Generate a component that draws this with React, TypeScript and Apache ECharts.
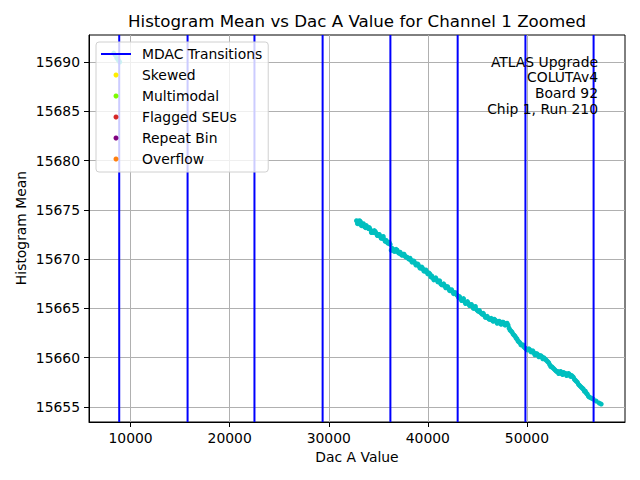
import React, { useEffect, useRef } from "react";
import * as echarts from "echarts";

const transitions = [8850, 15750, 22500, 29380, 36220, 43010, 49850, 56730];

const dacValues = [
  8300, 8450, 8600, 8750, 8900,
  32800, 33000, 33200, 33400, 33600, 33800, 34000, 34200, 34400, 34600, 34800,
  35000, 35200, 35400, 35600, 35800, 36000, 36200, 36300, 36500, 36700, 36900,
  37100, 37300, 37500, 37700, 37900, 38100, 38300, 38500, 38700, 38900, 39100,
  39300, 39500, 39700, 39900, 40100, 40300, 40500, 40700, 40900, 41100, 41300,
  41500, 41700, 41900, 42100, 42300, 42500, 42700, 42900, 43100, 43300, 43500,
  43700, 43900, 44100, 44300, 44500, 44700, 44900, 45100, 45300, 45500, 45700,
  45900, 46100, 46300, 46500, 46700, 46900, 47100, 47300, 47500, 47700, 47900,
  48100, 48300, 48500, 48700, 48900, 49100, 49300, 49500, 49700, 49900, 50100,
  50300, 50500, 50700, 50900, 51100, 51300, 51500, 51700, 51900, 52100, 52300,
  52500, 52700, 52900, 53100, 53300, 53500, 53700, 53900, 54100, 54300, 54500,
  54700, 54900, 55100, 55300, 55500, 55700, 55900, 56100, 56300, 56500, 56700,
  57000, 57300, 57500,
  32900, 33100, 33300, 33500, 33700, 33900, 34100, 34300, 34500, 34700, 34900,
  35100, 35300, 35500, 35700, 35900, 36100, 36400, 36600, 36800, 37000, 37200,
  37400, 37600, 37800, 38000, 38200, 38400, 38600, 38800, 39000, 39200, 39400,
  39600, 39800, 40000, 40200, 40400, 40600, 40800, 41000, 41200, 41400, 41600,
  41800, 42000, 42200, 42400, 42600, 42800, 43000, 43200, 43400, 43600, 43800,
  44000, 44200, 44400, 44600, 44800, 45000, 45200, 45400, 45600, 45800, 46000,
  46200, 46400, 46600, 46800, 47000, 47200, 47400, 47600, 47800, 48000, 48200,
  48400, 48600, 48800, 49000, 49200, 49400, 49600, 49800, 50000, 50200, 50400,
  50600, 50800, 51000, 51200, 51400, 51600, 51800, 52000, 52200, 52400, 52600,
  52800, 53000, 53200, 53400, 53600, 53800, 54000, 54200, 54400, 54600, 54800,
  55000, 55200, 55400, 55600, 55800, 56000, 56200,
];

const histMeans = [
  15690.9, 15690.7, 15690.4, 15690.2, 15690.0,
  15673.9, 15673.6, 15673.8, 15673.5, 15673.3, 15673.4, 15673.1, 15673.0, 15672.8, 15672.9, 15672.6,
  15672.5, 15672.3, 15672.2, 15672.0, 15671.9, 15671.6, 15671.5, 15670.9, 15671.0, 15670.8, 15670.9,
  15670.6, 15670.5, 15670.5, 15670.3, 15670.2, 15670.0, 15669.9, 15669.8, 15669.6, 15669.5, 15669.3,
  15669.1, 15669.0, 15668.8, 15668.7, 15668.6, 15668.2, 15668.1, 15668.0, 15667.9, 15667.7, 15667.5,
  15667.4, 15667.3, 15667.2, 15667.0, 15666.8, 15666.7, 15666.6, 15666.4, 15666.1, 15666.0, 15665.9,
  15665.7, 15665.6, 15665.5, 15665.3, 15665.2, 15665.1, 15664.9, 15664.7, 15664.6, 15664.4, 15664.3,
  15664.1, 15664.0, 15663.9, 15663.8, 15663.9, 15663.7, 15663.6, 15663.5, 15663.6, 15663.5, 15663.4,
  15663.3, 15662.8, 15662.6, 15662.3, 15662.0, 15661.7, 15661.5, 15661.3, 15661.1, 15660.9, 15660.8,
  15660.8, 15660.6, 15660.5, 15660.4, 15660.3, 15660.2, 15660.1, 15660.0, 15659.8, 15659.6, 15659.3,
  15659.1, 15658.9, 15658.7, 15658.6, 15658.5, 15658.4, 15658.5, 15658.4, 15658.3, 15658.3, 15658.2,
  15658.0, 15657.7, 15657.5, 15657.2, 15657.0, 15656.8, 15656.6, 15656.3, 15656.0, 15655.9, 15655.8,
  15655.6, 15655.4, 15655.3,
  15673.6, 15673.9, 15673.4, 15673.6, 15673.2, 15673.2, 15673.2, 15672.7, 15672.7, 15672.8, 15672.4,
  15672.5, 15672.1, 15672.3, 15671.8, 15671.7, 15671.7, 15671.1, 15670.8, 15671.0, 15670.7, 15670.7,
  15670.4, 15670.5, 15670.2, 15670.1, 15670.1, 15669.7, 15669.8, 15669.4, 15669.5, 15669.1, 15669.2,
  15668.8, 15668.9, 15668.5, 15668.5, 15668.3, 15667.9, 15668.1, 15667.7, 15667.8, 15667.4, 15667.5,
  15667.1, 15667.2, 15666.8, 15666.9, 15666.5, 15666.6, 15666.3, 15666.2, 15665.8, 15666.0, 15665.5,
  15665.7, 15665.3, 15665.4, 15665.0, 15665.2, 15664.8, 15664.8, 15664.5, 15664.5, 15664.1, 15664.2,
  15663.9, 15664.0, 15663.7, 15663.8, 15663.5, 15663.7, 15663.4, 15663.6, 15663.3, 15663.5, 15663.0,
  15662.7, 15662.4, 15662.2, 15661.9, 15661.6, 15661.3, 15661.3, 15661.0, 15660.8, 15660.9, 15660.6,
  15660.7, 15660.3, 15660.4, 15660.1, 15660.2, 15659.9, 15659.9, 15659.7, 15659.5, 15659.1, 15659.0,
  15658.8, 15658.6, 15658.4, 15658.6, 15658.3, 15658.4, 15658.2, 15658.4, 15658.1, 15658.1, 15657.8,
  15657.6, 15657.3, 15657.1, 15656.9, 15656.6, 15656.4, 15656.1,
];

const flagNames = ["Skewed", "Multimodal", "Flagged SEUs", "Repeat Bin", "Overflow"];
const flagColors = ["#ffee00", "#7cfc00", "#d62728", "#800080", "#ff7f0e"];

const xTicks = [10000, 20000, 30000, 40000, 50000];
const yTicks = [15655, 15660, 15665, 15670, 15675, 15680, 15685, 15690];

const X_MIN = 5800;
const X_MAX = 59900;
const Y_MIN = 15653.48;
const Y_MAX = 15692.74;

const annotationLines = ["ATLAS Upgrade", "COLUTAv4", "Board 92", "Chip 1, Run 210"];

const FONT = '"DejaVu Sans", sans-serif';

export default function App() {
  const ref = useRef<HTMLDivElement>(null);
  useEffect(() => {
    if (!ref.current) return;
    const chart = echarts.init(ref.current, null, { renderer: "svg" });
    const points = dacValues.map((x, i) => [x, histMeans[i]]);
    const vlines: any[] = [];
    transitions.forEach((t) => {
      vlines.push([t, Y_MIN], [t, Y_MAX], [t, "-"]);
    });
    const option: any = {
      animation: false,
      backgroundColor: "#ffffff",
      textStyle: { fontFamily: FONT },
      grid: {
        left: 89,
        right: 15,
        top: 35,
        bottom: 58,
        show: true,
        borderColor: "#000",
        borderWidth: 1,
        backgroundColor: "transparent",
      },
      xAxis: {
        type: "value",
        min: X_MIN,
        max: X_MAX,
        splitNumber: 5,
        minInterval: 10000,
        maxInterval: 10000,
        axisLine: { show: true, onZero: false, lineStyle: { color: "#000", width: 1 } },
        axisTick: { show: true, inside: false, length: 5, lineStyle: { color: "#000", width: 1 }, customValues: xTicks },
        axisLabel: {
          show: true,
          margin: 9,
          color: "#000",
          fontSize: 13.9,
          fontFamily: FONT,
          customValues: xTicks,
          formatter: (v: number) => (v % 10000 === 0 ? String(v) : ""),
        },
        splitLine: { show: true, lineStyle: { color: "#b0b0b0", width: 1 } },
      },
      yAxis: {
        type: "value",
        min: Y_MIN,
        max: Y_MAX,
        splitNumber: 8,
        minInterval: 5,
        maxInterval: 5,
        axisLine: { show: true, onZero: false, lineStyle: { color: "#000", width: 1 } },
        axisTick: { show: true, inside: false, length: 5, lineStyle: { color: "#000", width: 1 }, customValues: yTicks },
        axisLabel: {
          show: true,
          margin: 9,
          color: "#000",
          fontSize: 13.9,
          fontFamily: FONT,
          customValues: yTicks,
          formatter: (v: number) => (Math.abs(v % 5) < 1e-6 ? String(v) : ""),
        },
        splitLine: { show: true, lineStyle: { color: "#b0b0b0", width: 1 } },
      },
      legend: {
        show: true,
        z: 50,
        orient: "vertical",
        left: 96,
        top: 42,
        padding: [5, 6, 6, 4],
        itemGap: 7,
        itemWidth: 30,
        itemHeight: 5,
        backgroundColor: "rgba(255,255,255,0.8)",
        borderColor: "#d0d0d0",
        borderWidth: 1,
        borderRadius: 3,
        textStyle: { color: "#000", fontSize: 13.9, fontFamily: FONT, lineHeight: 14, padding: [0, 0, 0, 6] },
        data: [
          { name: "MDAC Transitions", itemStyle: { opacity: 0 }, lineStyle: { color: "#0000ff", width: 2 } },
          ...flagNames.map((n, i) => ({ name: n, itemStyle: { color: flagColors[i], opacity: 1 } })),
        ],
      },
      series: [
        {
          name: "Histogram Mean",
          type: "scatter",
          data: points,
          symbol: "circle",
          symbolSize: 5,
          itemStyle: { color: "#00bfbf", opacity: 1 },
          z: 1,
          silent: true,
        },
        ...flagNames.map((n, i) => ({
          name: n,
          type: "scatter",
          data: [],
          symbol: "circle",
          symbolSize: 5,
          itemStyle: { color: flagColors[i], opacity: 1 },
          z: 1,
        })),
        {
          name: "MDAC Transitions",
          type: "line",
          data: vlines,
          symbol: "none",
          showSymbol: false,
          connectNulls: false,
          silent: true,
          itemStyle: { color: "#0000ff" },
          lineStyle: { color: "#0000ff", width: 2 },
          z: 2,
        },
      ],
      graphic: [
        {
          type: "text",
          x: 357,
          y: 21,
          style: {
            text: "Histogram Mean vs Dac A Value for Channel 1 Zoomed",
            font: `16.67px ${FONT}`,
            fill: "#000",
            align: "center",
            verticalAlign: "middle",
          },
        },
        {
          type: "text",
          x: 357,
          y: 457,
          style: {
            text: "Dac A Value",
            font: `13.9px ${FONT}`,
            fill: "#000",
            align: "center",
            verticalAlign: "middle",
          },
        },
        {
          type: "text",
          x: 21,
          y: 228,
          rotation: Math.PI / 2,
          style: {
            text: "Histogram Mean",
            font: `13.9px ${FONT}`,
            fill: "#000",
            align: "center",
            verticalAlign: "middle",
          },
        },
        {
          type: "text",
          x: 598,
          y: 54,
          z: 10,
          style: {
            text: annotationLines.join("\n"),
            font: `13.9px ${FONT}`,
            lineHeight: 15.6,
            fill: "#000",
            align: "right",
            verticalAlign: "top",
          },
        },
      ],
    };
    chart.setOption(option);
    return () => chart.dispose();
  }, []);
  return (
    <div
      ref={ref}
      style={{ position: "fixed", left: 0, top: 0, width: 640, height: 480 }}
    />
  );
}
